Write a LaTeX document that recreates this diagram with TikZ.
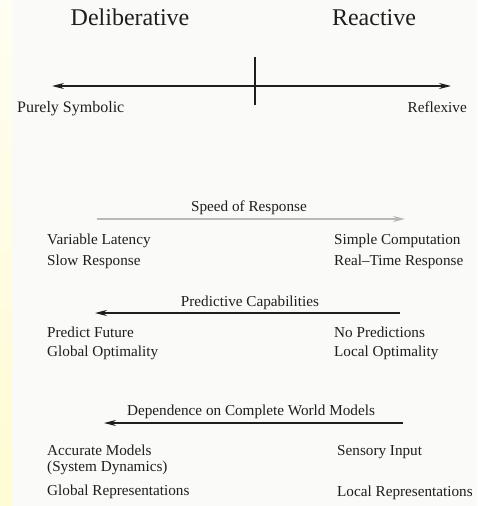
\documentclass[tikz,border=0pt]{standalone}
\usepackage{fontspec}
\setmainfont{Liberation Serif}
\usetikzlibrary{arrows.meta}
\definecolor{paper}{HTML}{FAFAF8}
\definecolor{stripA}{HTML}{FFFEF2}
\definecolor{stripB}{HTML}{FFFBD2}
\definecolor{ink}{HTML}{1E1E1E}
\definecolor{faint}{HTML}{B8B8B8}
\begin{document}
\begin{tikzpicture}[x=1pt,y=-1pt,
  lbl/.style={font=\fontsize{15.2}{17}\selectfont, text=ink, inner sep=0pt, anchor=mid west},
  lblr/.style={lbl, anchor=mid east},
  ttl/.style={font=\fontsize{15.2}{17}\selectfont, text=ink, inner sep=0pt, anchor=mid},
  head/.style={font=\fontsize{24}{28}\selectfont, text=ink, inner sep=0pt, anchor=mid},
  axis/.style={draw=ink, line width=1.4pt, {Stealth[length=12pt,width=6pt]}-{Stealth[length=12pt,width=6pt]}},
  scale arrow/.style={draw=ink, line width=1.3pt, -{Stealth[length=12pt,width=6pt]}},
  pale arrow/.style={draw=faint, line width=1.1pt, -{Stealth[length=12pt,width=6pt]}}]
% page and left margin strip
\fill[paper] (0,0) rectangle (477,506);
\shade[top color=stripA, bottom color=stripB] (0,0) rectangle (12,506);
\useasboundingbox (0,0) rectangle (477,506);

% spectrum headings
\node[head] (delib) at (130,23) {Deliberative};
\node[head] (react) at (374,23) {Reactive};

% main spectrum axis with divider
\coordinate (axL) at (52,86);
\coordinate (axR) at (451,86);
\coordinate (tickT) at (255,57);
\coordinate (tickB) at (255,105);
\draw[axis] (axL) -- (axR);
\draw[draw=ink, line width=1.4pt] (tickT) -- (tickB);
\node[lbl, font=\fontsize{16}{18}\selectfont] (symb) at (17,110) {Purely Symbolic};
\node[lblr] (refl) at (467,110) {Reflexive};

% speed of response
\node[ttl] (speed) at (249,209) {Speed of Response};
\coordinate (spL) at (97,219);
\coordinate (spR) at (405,219);
\draw[pale arrow] (spL) -- (spR);
\node[lbl] (varlat) at (47,242) {Variable Latency};
\node[lbl] (slow) at (47,263) {Slow Response};
\node[lbl] (simple) at (334,242) {Simple Computation};
\node[lbl] (realtime) at (334,263) {Real–Time Response};

% predictive capabilities
\node[ttl] (pred) at (250,304) {Predictive Capabilities};
\coordinate (prR) at (400,313);
\coordinate (prL) at (95,313);
\draw[scale arrow] (prR) -- (prL);
\node[lbl] (future) at (47,335) {Predict Future};
\node[lbl] (globopt) at (47,354) {Global Optimality};
\node[lbl] (nopred) at (334,335) {No Predictions};
\node[lbl] (locopt) at (334,354) {Local Optimality};

% dependence on world models
\node[ttl] (dep) at (251,413) {Dependence on Complete World Models};
\coordinate (dpR) at (403,423);
\coordinate (dpL) at (104,423);
\draw[scale arrow] (dpR) -- (dpL);
\node[lbl] (accur) at (47,453) {Accurate Models};
\node[lbl] (sysdyn) at (47,469) {(System Dynamics)};
\node[lbl] (globrep) at (47,493) {Global Representations};
\node[lbl] (sensory) at (337,453) {Sensory Input};
\node[lbl] (locrep) at (337,494) {Local Representations};
\end{tikzpicture}
\end{document}
